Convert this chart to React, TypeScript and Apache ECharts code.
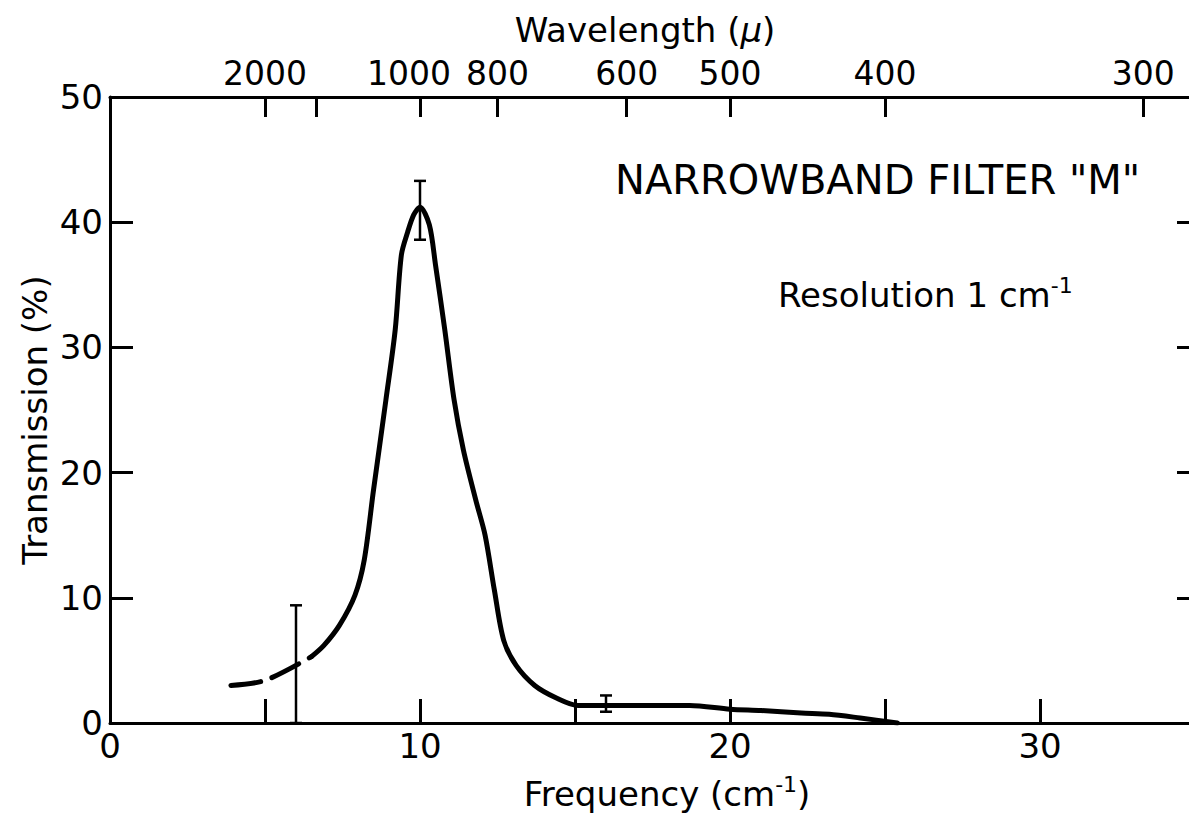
import React, { useEffect, useRef } from "react";
import * as echarts from "echarts";

// Frequency axis (cm^-1)
const freqTicks = [5, 10, 15, 20, 25, 30];
const freqLabels = [0, 10, 20, 30];
// Transmission axis (%)
const transTicks = [0, 10, 20, 30, 40, 50];
// Wavelength axis (micron): ticks and labelled ticks
const wavelengthTicks = [2000, 1500, 1000, 800, 600, 500, 400, 300];
const wavelengthLabels = [2000, 1000, 800, 600, 500, 400, 300];

// Dashed extrapolated part of the spectrum
const dashedCurve: [number, number][] = [
  [3.9, 3.0],
  [5.0, 3.4],
  [6.5, 5.3],
];

// Measured transmission curve
const solidCurve: [number, number][] = [
  [6.5, 5.3],
  [6.9, 6.2],
  [7.4, 7.8],
  [7.9, 10.2],
  [8.2, 13.0],
  [8.5, 18.6],
  [8.9, 25.8],
  [9.2, 31.4],
  [9.4, 37.4],
  [9.6, 39.2],
  [9.8, 40.6],
  [10.0, 41.2],
  [10.3, 39.8],
  [10.5, 36.6],
  [10.8, 31.4],
  [11.1, 25.8],
  [11.4, 21.8],
  [11.8, 17.8],
  [12.1, 15.0],
  [12.4, 10.6],
  [12.7, 6.6],
  [13.1, 4.6],
  [13.7, 3.0],
  [14.4, 2.0],
  [15.1, 1.4],
  [16.1, 1.4],
  [17.4, 1.4],
  [18.7, 1.4],
  [20.0, 1.1],
  [21.0, 1.0],
  [22.3, 0.8],
  [23.2, 0.7],
  [24.2, 0.4],
  [25.4, 0.0],
];

// Error bars: [frequency, low, high]
const errorBars: [number, number, number][] = [
  [6, 0, 9.4],
  [10, 38.6, 43.3],
  [16, 0.9, 2.2],
];

const FONT = "DejaVu Sans";

export default function App() {
  const ref = useRef<HTMLDivElement>(null);

  useEffect(() => {
    if (!ref.current) return;
    const chart = echarts.init(ref.current, undefined, { renderer: "svg" });
    const axisLine = { show: true, onZero: false, lineStyle: { color: "#000", width: 3 } };
    const tickStyle = { color: "#000", width: 3 };
    const xMax = (1189 - 110) / 31;
    const supRich = {
      a: { fontFamily: FONT, fontSize: 34, fill: "#000", color: "#000", lineHeight: 42 },
      s: { fontFamily: FONT, fontSize: 22, fill: "#000", color: "#000", verticalAlign: "top" },
    };

    chart.setOption({
      animation: false,
      backgroundColor: "#fff",
      grid: { left: 110, right: 0, top: 97, bottom: 93, containLabel: false },
      xAxis: [
        {
          type: "value",
          position: "bottom",
          min: 0,
          max: xMax,
          axisLine,
          splitLine: { show: false },
          axisTick: {
            show: true,
            inside: true,
            length: 24,
            lineStyle: tickStyle,
            customValues: freqTicks,
          },
          axisLabel: {
            show: true,
            customValues: freqLabels,
            fontFamily: FONT,
            fontSize: 34,
            color: "#000",
            margin: 6,
            formatter: (v: number) => String(Math.round(v)),
          },
        },
        {
          type: "value",
          position: "top",
          min: 0,
          max: xMax,
          axisLine,
          splitLine: { show: false },
          axisTick: {
            show: true,
            inside: true,
            length: 20,
            lineStyle: tickStyle,
            customValues: wavelengthTicks.map((w) => 10000 / w),
          },
          axisLabel: {
            show: true,
            customValues: wavelengthLabels.map((w) => 10000 / w),
            fontFamily: FONT,
            fontSize: 33,
            color: "#000",
            margin: 7,
            formatter: (v: number) => {
              const w = Math.round(10000 / v);
              return w === 1000 ? "{l|" + w + "}" : String(w);
            },
            rich: {
              l: { fontFamily: FONT, fontSize: 33, color: "#000", padding: [0, 22, 0, 0] },
            },
          },
        },
      ],
      yAxis: [
        {
          type: "value",
          position: "left",
          min: 0,
          max: 50,
          interval: 10,
          axisLine,
          splitLine: { show: false },
          axisTick: {
            show: true,
            inside: true,
            length: 23,
            lineStyle: tickStyle,
            customValues: transTicks,
          },
          axisLabel: {
            show: true,
            customValues: transTicks,
            fontFamily: FONT,
            fontSize: 34,
            color: "#000",
            margin: 7,
          },
        },
        {
          type: "value",
          position: "right",
          min: 0,
          max: 50,
          interval: 10,
          axisLine: { show: false, onZero: false },
          splitLine: { show: false },
          axisTick: {
            show: true,
            inside: true,
            length: 12,
            lineStyle: tickStyle,
            customValues: [10, 20, 30, 40],
          },
          axisLabel: { show: false },
        },
      ],
      series: [
        {
          type: "line",
          data: dashedCurve,
          showSymbol: false,
          symbol: "none",
          smooth: 0.3,
          lineStyle: { color: "#000", width: 5, type: [30, 12], cap: "round" },
          z: 3,
        },
        {
          type: "line",
          data: solidCurve,
          showSymbol: false,
          symbol: "none",
          smooth: 0.3,
          lineStyle: { color: "#000", width: 5, cap: "round", join: "round" },
          z: 3,
        },
        {
          type: "custom",
          data: errorBars,
          encode: { x: 0, y: [1, 2] },
          z: 4,
          renderItem: (params: any, api: any) => {
            const x = api.value(0);
            const lo = api.coord([x, api.value(1)]);
            const hi = api.coord([x, api.value(2)]);
            const w = 6;
            const style = { stroke: "#000", lineWidth: 2.5 };
            return {
              type: "group",
              children: [
                { type: "line", shape: { x1: lo[0], y1: lo[1], x2: hi[0], y2: hi[1] }, style },
                { type: "line", shape: { x1: hi[0] - w, y1: hi[1], x2: hi[0] + w, y2: hi[1] }, style },
                { type: "line", shape: { x1: lo[0] - w, y1: lo[1], x2: lo[0] + w, y2: lo[1] }, style },
              ],
            };
          },
        },
      ],
      graphic: [
        {
          type: "text",
          x: 645,
          y: 30,
          style: {
            text: "{a|Wavelength (}{b|μ}{a|)}",
            align: "center",
            verticalAlign: "middle",
            fill: "#000",
            rich: {
              a: { fontFamily: FONT, fontSize: 34, fill: "#000" },
              b: { fontFamily: FONT, fontSize: 34, fontStyle: "italic", fill: "#000" },
            },
          },
        },
        {
          type: "text",
          x: 667,
          y: 794,
          style: {
            text: "{a|Frequency (cm}{s|-1}{a|)}",
            align: "center",
            verticalAlign: "middle",
            fill: "#000",
            rich: supRich,
          },
        },
        {
          type: "text",
          x: 35,
          y: 420,
          rotation: Math.PI / 2,
          style: {
            text: "Transmission (%)",
            align: "center",
            verticalAlign: "middle",
            fontFamily: FONT,
            fontSize: 34,
            fill: "#000",
          },
        },
        {
          type: "text",
          x: 615,
          y: 180,
          style: {
            text: 'NARROWBAND FILTER "M"',
            align: "left",
            verticalAlign: "middle",
            fontFamily: FONT,
            fontSize: 40,
            fill: "#000",
          },
        },
        {
          type: "text",
          x: 778,
          y: 295,
          style: {
            text: "{a|Resolution 1 cm}{s|-1}",
            align: "left",
            verticalAlign: "middle",
            fill: "#000",
            rich: supRich,
          },
        },
      ],
    });

    return () => chart.dispose();
  }, []);

  return (
    <div
      ref={ref}
      style={{ position: "fixed", left: 0, top: 0, width: 1189, height: 816, background: "#fff" }}
    />
  );
}
